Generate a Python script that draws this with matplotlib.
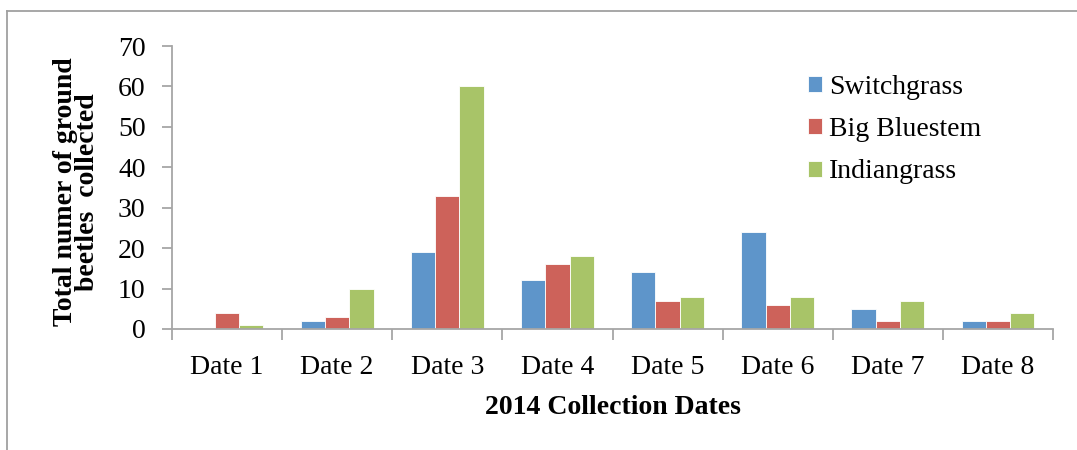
import numpy as np
import matplotlib.pyplot as plt
from matplotlib.lines import Line2D

dates = ["Date 1", "Date 2", "Date 3", "Date 4", "Date 5", "Date 6", "Date 7", "Date 8"]
switchgrass = [0, 2, 19, 12, 14, 24, 5, 2]
big_bluestem = [4, 3, 33, 16, 7, 6, 2, 2]
indiangrass = [1, 10, 60, 18, 8, 8, 7, 4]
series_names = ["Switchgrass", "Big Bluestem", "Indiangrass"]
colors = ["#5E95CA", "#CD625A", "#A8C468"]

plt.rcParams.update({
    "font.family": ["Liberation Serif", "DejaVu Serif"],
    "font.size": 20,
})

W, H = 1077, 450
fig = plt.figure(figsize=(W / 100, H / 100), dpi=100)
ax = fig.add_axes([172/W, 1 - 329/H, (1053 - 172)/W, (329 - 46)/H])

x = np.arange(len(dates))
w = 0.22
for i, (vals, name, c) in enumerate(zip([switchgrass, big_bluestem, indiangrass], series_names, colors)):
    ax.bar(x + (i - 1) * w, vals, width=w, color=c, edgecolor="white", linewidth=0.6, label=name)

ax.set_xlim(-0.5, len(dates) - 0.5)
ax.set_ylim(0, 70)
ax.set_yticks(range(0, 71, 10))
ax.set_xticks(x)
ax.set_xticklabels(dates)
ax.set_xticks(np.arange(-0.5, len(dates), 1), minor=True)

grey = "#A6A6A6"
for s in ["top", "right"]:
    ax.spines[s].set_visible(False)
for s in ["left", "bottom"]:
    ax.spines[s].set_color(grey)
    ax.spines[s].set_linewidth(1.3)
ax.tick_params(axis="y", length=7, width=1.3, color=grey, pad=12, labelsize=20)
ax.tick_params(axis="x", which="major", length=0, pad=19, labelsize=20)
ax.tick_params(axis="x", which="minor", length=8, width=1.3, color=grey)

fig.text(612.5/W, 1 - 408/H, "2014 Collection Dates", fontweight="bold", fontsize=20,
         ha="center", va="center")
fig.text(76.5/W, 1 - 192/H, "Total numer of ground\nbeetles  collected", fontweight="bold",
         fontsize=20, rotation=90, ha="center", va="center", multialignment="center",
         linespacing=0.85)

ax.legend(loc="upper left", bbox_to_anchor=((808 - 172)/881, (329 - 75)/283), frameon=False,
          fontsize=20, borderpad=0, borderaxespad=0,
          handlelength=0.5, handleheight=0.5, handletextpad=0.25, labelspacing=0.62)

# outer frame lines (top and left)
fig.add_artist(Line2D([7/W, 1], [1 - 11/H, 1 - 11/H], color="#A0A0A0", linewidth=1.3))
fig.add_artist(Line2D([7/W, 7/W], [0, 1 - 11/H], color="#A0A0A0", linewidth=1.3))

fig.savefig("out.png", dpi=100)
